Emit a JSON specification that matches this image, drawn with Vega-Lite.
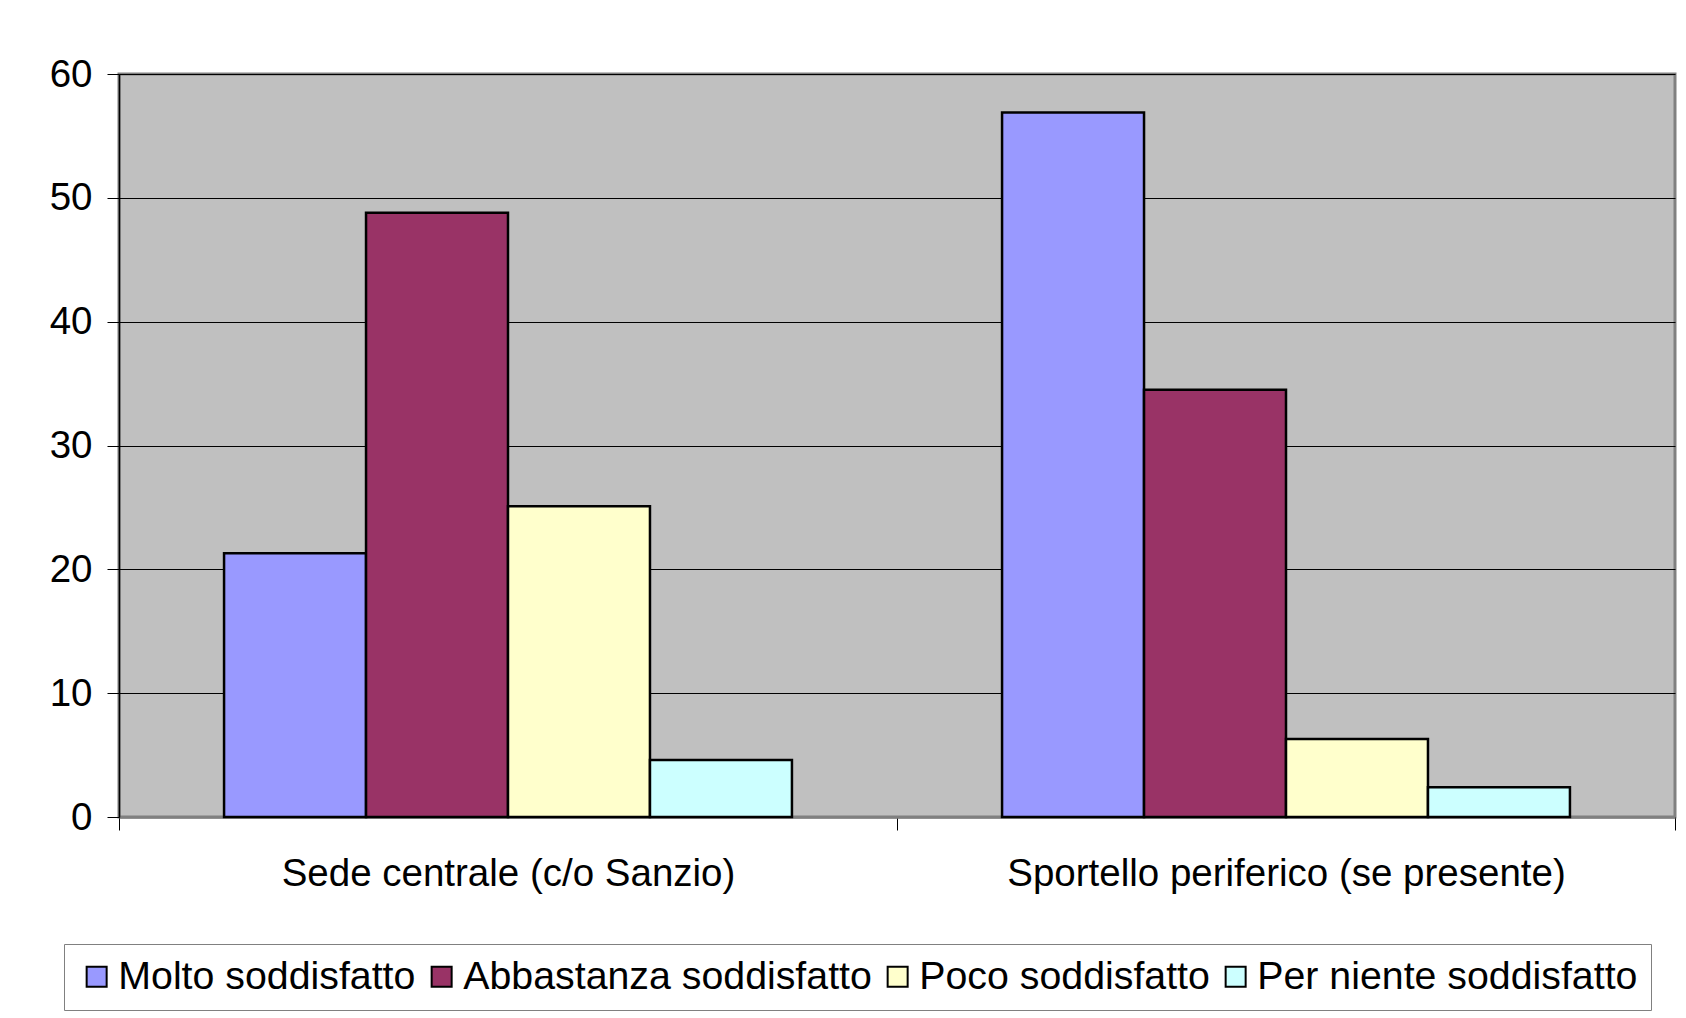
{
  "$schema": "https://vega.github.io/schema/vega-lite/v6.json",
  "width": 1556,
  "height": 743,
  "autosize": {"type": "none"},
  "padding": {"left": 119, "top": 74, "right": 11, "bottom": 201},
  "background": "white",
  "data": {
    "values": [
      {"sede": "Sede centrale (c/o Sanzio)", "giudizio": "Molto soddisfatto", "valore": 21.3},
      {"sede": "Sede centrale (c/o Sanzio)", "giudizio": "Abbastanza soddisfatto", "valore": 48.8},
      {"sede": "Sede centrale (c/o Sanzio)", "giudizio": "Poco soddisfatto", "valore": 25.1},
      {"sede": "Sede centrale (c/o Sanzio)", "giudizio": "Per niente soddisfatto", "valore": 4.6},
      {"sede": "Sportello periferico (se presente)", "giudizio": "Molto soddisfatto", "valore": 56.9},
      {"sede": "Sportello periferico (se presente)", "giudizio": "Abbastanza soddisfatto", "valore": 34.5},
      {"sede": "Sportello periferico (se presente)", "giudizio": "Poco soddisfatto", "valore": 6.3},
      {"sede": "Sportello periferico (se presente)", "giudizio": "Per niente soddisfatto", "valore": 2.4}
    ]
  },
  "mark": {"type": "bar", "stroke": "black", "strokeWidth": 2.5},
  "encoding": {
    "x": {
      "field": "sede",
      "type": "nominal",
      "sort": ["Sede centrale (c/o Sanzio)", "Sportello periferico (se presente)"],
      "scale": {"paddingInner": 0, "paddingOuter": 0},
      "axis": {
        "title": null,
        "labelAngle": 0,
        "labelFontSize": 38.5,
        "labelColor": "black",
        "domainColor": "#808080",
        "domainWidth": 2.5,
        "tickColor": "#000000",
        "tickSize": 13,
        "tickBand": "extent",
        "labelPadding": 25,
        "labelLimit": 1000,
        "grid": false
      }
    },
    "xOffset": {
      "field": "giudizio",
      "type": "nominal",
      "sort": ["Molto soddisfatto", "Abbastanza soddisfatto", "Poco soddisfatto", "Per niente soddisfatto"],
      "scale": {"paddingInner": 0, "paddingOuter": 0.74}
    },
    "y": {
      "field": "valore",
      "type": "quantitative",
      "scale": {"domain": [0, 60], "nice": false},
      "axis": {
        "title": null,
        "values": [0, 10, 20, 30, 40, 50, 60],
        "grid": true,
        "gridColor": "#000000",
        "gridWidth": 1,
        "domainColor": "#000000",
        "domainWidth": 1.5,
        "tickColor": "#000000",
        "tickSize": 12,
        "labelFontSize": 38.5,
        "labelColor": "black",
        "labelPadding": 15
      }
    },
    "color": {
      "field": "giudizio",
      "type": "nominal",
      "sort": ["Molto soddisfatto", "Abbastanza soddisfatto", "Poco soddisfatto", "Per niente soddisfatto"],
      "scale": {
        "domain": ["Molto soddisfatto", "Abbastanza soddisfatto", "Poco soddisfatto", "Per niente soddisfatto"],
        "range": ["#9999FF", "#993366", "#FFFFCC", "#CCFFFF"]
      },
      "legend": {
        "title": null,
        "orient": "none",
        "legendX": -55,
        "legendY": 870,
        "direction": "horizontal",
        "columns": 4,
        "labelFontSize": 39.3,
        "labelColor": "black",
        "labelLimit": 1000,
        "symbolType": "square",
        "symbolSize": 400,
        "symbolStrokeColor": "black",
        "symbolStrokeWidth": 2,
        "symbolOpacity": 1,
        "labelOffset": 2,
        "columnPadding": 6,
        "padding": 13,
        "strokeColor": "#808080",
        "fillColor": "white"
      }
    }
  },
  "config": {
    "font": "Liberation Sans",
    "view": {"fill": "#C0C0C0", "stroke": "#808080", "strokeWidth": 3}
  }
}
